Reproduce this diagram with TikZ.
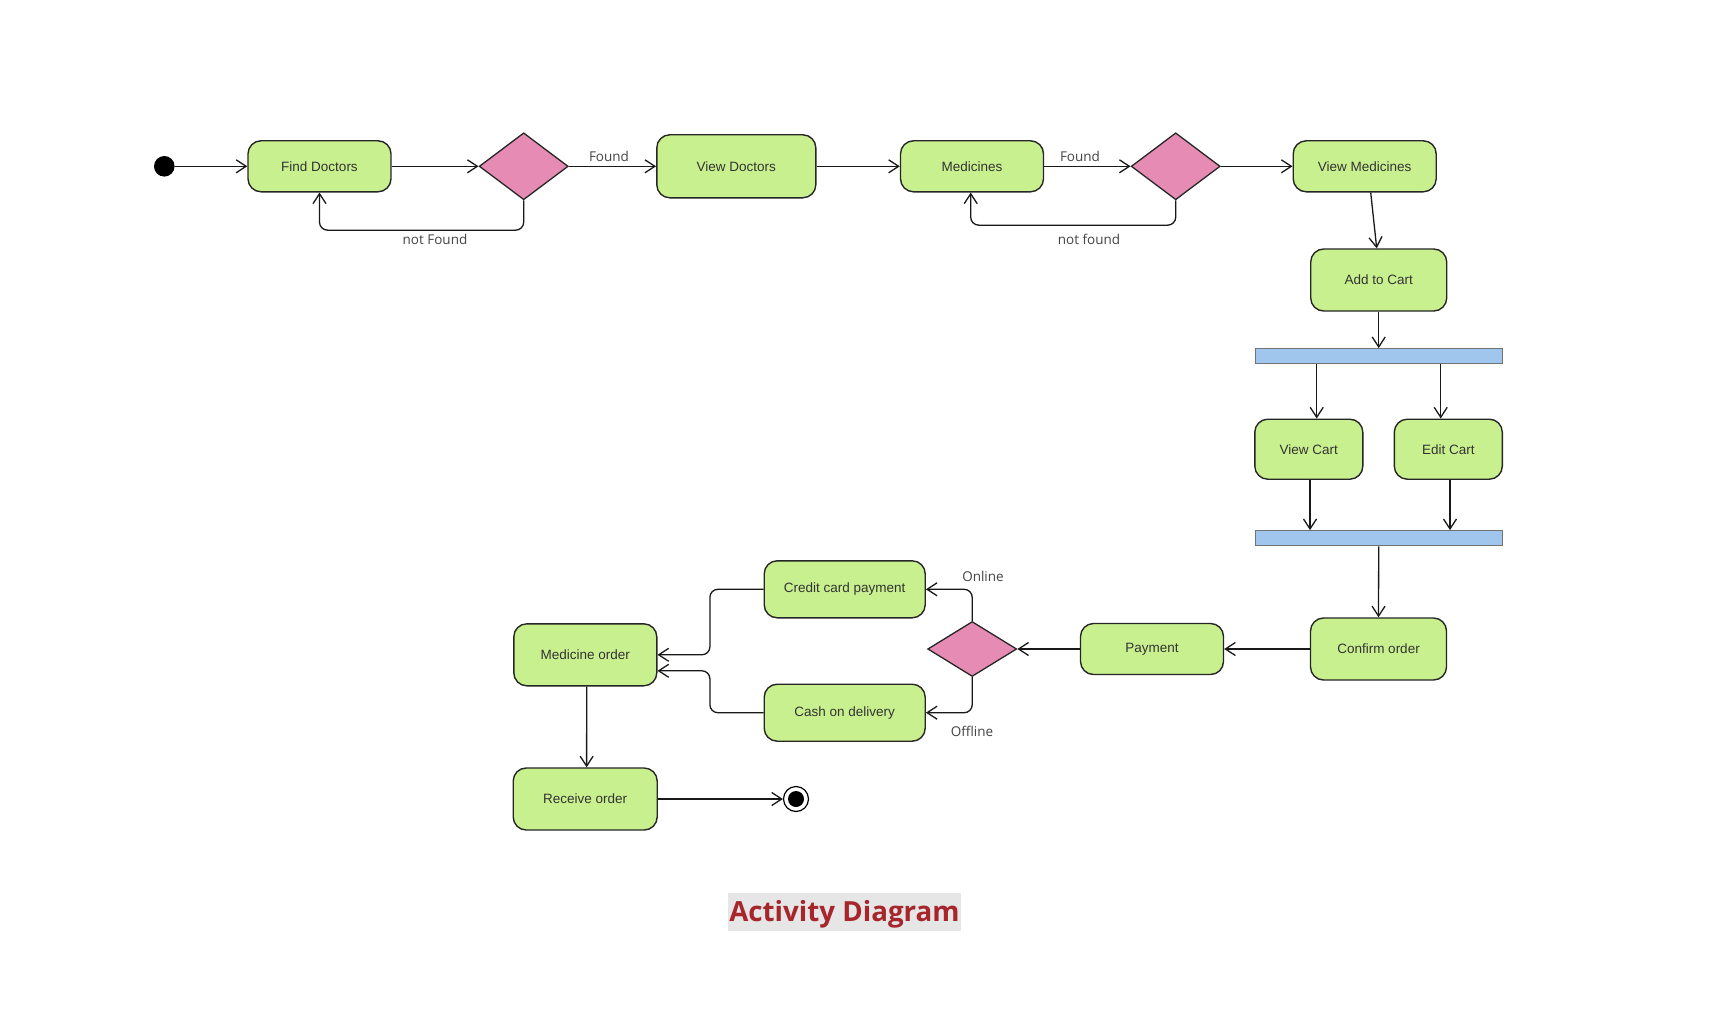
\documentclass[tikz,border=0pt]{standalone}
\usepackage{fontspec}
\setmainfont{Liberation Sans}
\newfontfamily\lblfont{Open Sans}
\usetikzlibrary{arrows.meta,shapes.geometric,calc}
\definecolor{actgreen}{RGB}{201,240,143}
\definecolor{decpink}{RGB}{230,139,180}
\definecolor{barblue}{RGB}{160,198,238}
\definecolor{txtgray}{RGB}{51,51,51}
\definecolor{lblgray}{RGB}{68,68,68}
\definecolor{titlered}{RGB}{166,38,44}
\definecolor{titlebg}{RGB}{230,230,230}
\tikzset{
  act/.style={draw=black!85, line width=1.4pt, fill=actgreen, rounded corners=13pt,
    inner sep=0pt, text=txtgray, font=\fontsize{13.5}{16}\selectfont},
  dec/.style={draw=black!85, line width=1.3pt, fill=decpink, diamond, inner sep=0pt},
  barnode/.style={draw=black!55, line width=1.3pt, fill=barblue, inner sep=0pt,
    minimum width=247pt, minimum height=15pt},
  arr/.style={draw=black!90, line width=1.3pt, -{Straight Barb[length=10pt,width=13pt,line width=1.3pt]}},
  lbl/.style={text=lblgray, font=\lblfont\fontsize{13.5}{16}\selectfont, inner sep=0pt},
}
\begin{document}
\begin{tikzpicture}[x=1pt,y=-1pt]
\useasboundingbox[fill=white] (0,0) rectangle (1710,1030);

% nodes
\node[circle, fill=black, minimum size=20.6pt, inner sep=0pt] (start) at (164.3,166.3) {};
\node[act, minimum width=143pt, minimum height=51pt] (fd) at (319.5,166.3) {Find Doctors};
\node[dec, minimum width=89pt, minimum height=67pt] (d1) at (523.7,166.3) {};
\node[act, minimum width=159pt, minimum height=63pt] (vd) at (736.3,166.3) {View Doctors};
\node[act, minimum width=143pt, minimum height=51pt] (med) at (972,166.3) {Medicines};
\node[dec, minimum width=89pt, minimum height=67pt] (d2) at (1175.7,166.3) {};
\node[act, minimum width=143pt, minimum height=51pt] (vm) at (1364.7,166.3) {View Medicines};
\node[act, minimum width=136pt, minimum height=62pt] (atc) at (1378.7,280) {Add to Cart};
\node[barnode] (bar1) at (1378.7,356.3) {};
\node[act, minimum width=108pt, minimum height=60pt] (vc) at (1308.8,449.2) {View Cart};
\node[act, minimum width=108pt, minimum height=60pt] (ec) at (1448.3,449.2) {Edit Cart};
\node[barnode] (bar2) at (1378.7,538.3) {};
\node[act, minimum width=136pt, minimum height=62pt] (co) at (1378.5,649) {Confirm order};
\node[act, minimum width=143pt, minimum height=51pt] (pay) at (1152,649) {Payment};
\node[dec, minimum width=89pt, minimum height=55pt] (d3) at (972.2,649) {};
\node[act, minimum width=161pt, minimum height=57pt] (cc) at (844.7,589.3) {Credit card payment};
\node[act, minimum width=161pt, minimum height=57pt] (cod) at (844.7,712.7) {Cash on delivery};
\node[act, minimum width=143pt, minimum height=62pt] (mo) at (585.3,654.8) {Medicine order};
\node[act, minimum width=144pt, minimum height=62pt] (ro) at (585.2,799) {Receive order};
\node[circle, draw=black, line width=1.2pt, fill=white, minimum size=25pt, inner sep=0pt] (end) at (796,799) {};
\node[circle, fill=black, minimum size=16pt, inner sep=0pt] (endin) at (end.center) {};

% labels
\node[lbl] (lfound1) at (609,156) {Found};
\node[lbl] (lnf1) at (435,239) {not Found};
\node[lbl] (lfound2) at (1080,156) {Found};
\node[lbl] (lnf2) at (1089,239) {not found};
\node[lbl] (lon) at (983,576) {Online};
\node[lbl] (loff) at (972,731) {Offline};

% connectors
\draw[arr] (start) -- (fd.west);
\draw[arr] (fd.east) -- (d1.west);
\draw[arr] (d1.east) -- (vd.west);
\draw[arr, rounded corners=8pt] (d1.south) -- ++(0,29.7) -| (fd.south);
\draw[arr] (vd.east) -- (med.west);
\draw[arr] (med.east) -- (d2.west);
\draw[arr, rounded corners=8pt] (d2.south) -- ++(0,24.7) -| ([xshift=-1.3pt]med.south);
\draw[arr] (d2.east) -- (vm.west);
\draw[arr] ([xshift=6pt]vm.south) -- ([xshift=-2pt]atc.north);
\draw[arr] (atc.south) -- (bar1.north);
\draw[arr] ([xshift=-62pt]bar1.south) -- ([xshift=-62pt]bar1.south |- vc.north);
\draw[arr] ([xshift=62pt]bar1.south) -- ([xshift=62pt]bar1.south |- ec.north);
\draw[arr] ([xshift=1.2pt]vc.south) -- ([xshift=1.2pt]vc.south |- bar2.north);
\draw[arr] ([xshift=1.7pt]ec.south) -- ([xshift=1.7pt]ec.south |- bar2.north);
\draw[arr] (bar2.south) -- (co.north);
\draw[arr] (co.west) -- (pay.east);
\draw[arr] (pay.west) -- (d3.east);
\draw[arr, rounded corners=8pt] (d3.north) |- (cc.east);
\draw[arr, rounded corners=8pt] (d3.south) |- (cod.east);
\draw[arr, rounded corners=8pt] (cc.west) -- ([xshift=-53.6pt]cc.west) |- (mo.east);
\draw[arr, rounded corners=8pt] (cod.west) -- ([xshift=-53.6pt]cod.west) |- ([yshift=-16pt]mo.east);
\draw[arr] ([xshift=1.4pt]mo.south) -- ([xshift=1.4pt]ro.north);
\draw[arr] (ro.east) -- (end.west);

% title
\node[fill=titlebg, inner sep=0pt, minimum width=233pt, minimum height=38pt] (titlebox) at (844.5,911.7) {};
\node[inner sep=0pt, text=titlered, font=\lblfont\bfseries\fontsize{27.7}{32}\selectfont] (title) at (844.5,914.5) {Activity Diagram};
\end{tikzpicture}
\end{document}
